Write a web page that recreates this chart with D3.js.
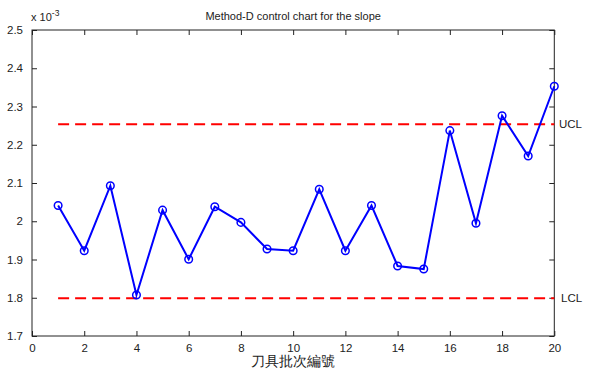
<!DOCTYPE html>
<html><head><meta charset="utf-8">
<script src="https://cdn.jsdelivr.net/npm/d3@7"></script>
<style>body{margin:0;background:#fff}svg{display:block}text{font-family:"Liberation Sans",Arial,sans-serif;fill:#222}</style>
</head><body><svg id="c" width="595" height="372"></svg>
<script>
const batches = d3.range(1, 21);
const slopeValues = [2.041e-3,1.923e-3,2.093e-3,1.807e-3,2.029e-3,1.9005e-3,2.038e-3,1.997e-3,1.9275e-3,1.923e-3,
                     2.0835e-3,1.923e-3,2.041e-3,1.883e-3,1.875e-3,2.237e-3,1.9946e-3,2.276e-3,2.1706e-3,2.353e-3];
const UCL = 2.2535e-3, LCL = 1.7985e-3;
const xTicks = [0,2,4,6,8,10,12,14,16,18,20];
const yTicks = [1.7e-3,1.8e-3,1.9e-3,2.0e-3,2.1e-3,2.2e-3,2.3e-3,2.4e-3,2.5e-3];
const titleText = "Method-D control chart for the slope";
const xLabel = "刀具批次編號";

const svg = d3.select("#c");
const L=32, R=554.3, T=30, B=336;
const x = d3.scaleLinear().domain([0,20]).range([L,R]);
const y = d3.scaleLinear().domain([1.7e-3,2.5e-3]).range([B,T]);
const fmtY = v => d3.format("")(+(v*1e3).toFixed(1));

// frame
svg.append("rect").attr("x",L).attr("y",T).attr("width",R-L).attr("height",B-T)
  .attr("fill","none").attr("stroke","#222").attr("stroke-width",1);

const ax = (axis, tr) => { const g = svg.append("g").attr("transform",tr).call(axis);
  g.select(".domain").remove(); g.selectAll("line").attr("stroke","#222");
  g.selectAll("text").attr("font-size","11.5px").attr("fill","#222"); return g; };
ax(d3.axisBottom(x).tickValues(xTicks).tickSize(-5).tickPadding(8), `translate(0,${B})`);
ax(d3.axisTop(x).tickValues(xTicks).tickSize(-5).tickFormat(""), `translate(0,${T})`);
ax(d3.axisLeft(y).tickValues(yTicks).tickSize(-5).tickPadding(9).tickFormat(fmtY), `translate(${L},0)`);
ax(d3.axisRight(y).tickValues(yTicks).tickSize(-5).tickFormat(""), `translate(${R},0)`);

// exponent label
const ex = svg.append("text").attr("x",31).attr("y",21).attr("font-size","11px");
ex.append("tspan").text("x 10");
ex.append("tspan").attr("dy",-5).attr("font-size","8.5px").text("-3");

// control limits
[UCL,LCL].forEach(v => svg.append("line").attr("x1",x(1)).attr("x2",x(20)).attr("y1",y(v)).attr("y2",y(v))
  .attr("stroke","#ff0000").attr("stroke-width",2).attr("stroke-dasharray","11,6"));
svg.append("text").attr("x",559).attr("y",y(UCL)+4).attr("font-size","11.5px").text("UCL");
svg.append("text").attr("x",561).attr("y",y(LCL)+4).attr("font-size","11.5px").text("LCL");

// series
const pts = batches.map((b,i)=>[b,slopeValues[i]]);
svg.append("path").datum(pts).attr("fill","none").attr("stroke","#0000ff").attr("stroke-width",2)
  .attr("d", d3.line().x(d=>x(d[0])).y(d=>y(d[1])));
svg.selectAll("circle.m").data(pts).join("circle").attr("class","m")
  .attr("cx",d=>x(d[0])).attr("cy",d=>y(d[1])).attr("r",3.8)
  .attr("fill","none").attr("stroke","#0000ff").attr("stroke-width",1.5);

// title & xlabel
svg.append("text").attr("x",(L+R)/2).attr("y",20).attr("text-anchor","middle").attr("font-size","11px").text(titleText);
svg.append("text").attr("x",(L+R)/2).attr("y",366).attr("text-anchor","middle")
  .attr("font-family","'Noto Sans CJK TC',sans-serif").attr("font-size","14px").text(xLabel);
</script></body></html>
